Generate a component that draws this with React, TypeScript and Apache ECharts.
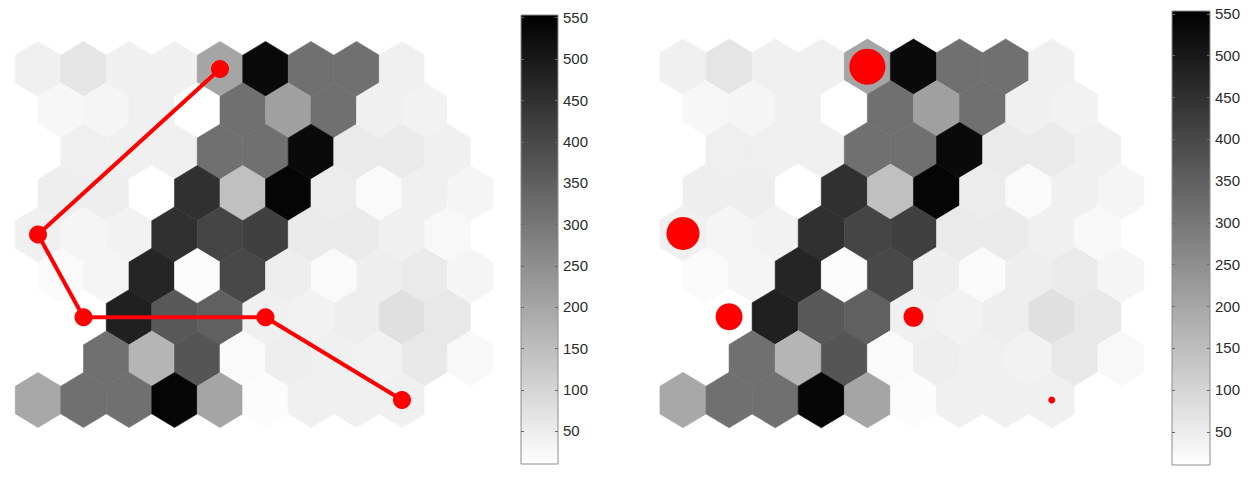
import React, { useEffect, useRef } from "react";
import * as echarts from "echarts";

// Hit counts of the SOM neurons, 9 rows x 10 columns (hexagonal lattice, odd rows shifted right)
const hitRow0 = [42, 65, 42, 42, 202, 532, 314, 314, 42, 10];
const hitRow1 = [27, 31, 42, 10, 314, 212, 314, 42, 38, 10];
const hitRow2 = [10, 44, 42, 42, 314, 314, 532, 55, 55, 42];
const hitRow3 = [46, 46, 10, 451, 144, 542, 50, 21, 42, 31];
const hitRow4 = [42, 31, 38, 451, 406, 417, 55, 55, 42, 25];
const hitRow5 = [21, 31, 474, 16, 400, 46, 21, 46, 55, 31];
const hitRow6 = [10, 10, 485, 366, 349, 42, 38, 46, 76, 59];
const hitRow7 = [10, 314, 168, 372, 21, 46, 42, 38, 59, 25];
const hitRow8 = [195, 314, 314, 542, 202, 16, 42, 42, 42, 10];
const hitRows = [hitRow0, hitRow1, hitRow2, hitRow3, hitRow4, hitRow5, hitRow6, hitRow7, hitRow8];

// Trajectory of best matching units: [column, row]
const trajectoryNodes = [
  [4, 0],
  [0, 4],
  [1, 6],
  [5, 6],
  [8, 8],
];
// Hits of the sample at those nodes (marker diameter)
const sampleHits = [36, 33, 27, 20, 7];

const colorbarTicks = [50, 100, 150, 200, 250, 300, 350, 400, 450, 500, 550];
const valueMin = 10;
const valueMax = 553;

const latticeX = (c: number, r: number) => c + (r % 2) * 0.5;

const hexData = hitRows.flatMap((row, r) => row.map((v, c) => [latticeX(c, r), r, v]));
const trajData = trajectoryNodes.map(([c, r]) => [latticeX(c, r), r]);
const sampleData = trajectoryNodes.map(([c, r], i) => [latticeX(c, r), r, sampleHits[i]]);

const hexRender = (params: any, api: any) => {
  const x = api.value(0);
  const y = api.value(1);
  const [cx, cy] = api.coord([x, y]);
  const [dx, dy] = api.size([1, 1]);
  const hw = dx / 2;
  const pts = [
    [cx, cy - (2 / 3) * dy],
    [cx + hw, cy - dy / 3],
    [cx + hw, cy + dy / 3],
    [cx, cy + (2 / 3) * dy],
    [cx - hw, cy + dy / 3],
    [cx - hw, cy - dy / 3],
  ];
  const color = api.visual("color");
  return {
    type: "polygon",
    shape: { points: pts },
    style: { fill: color, stroke: color, lineWidth: 0.6 },
  };
};

const colorbarRender = (params: any, api: any) => {
  const p1 = api.coord([0, valueMax]);
  const p2 = api.coord([1, valueMin]);
  const children: any[] = [
    {
      type: "rect",
      shape: { x: p1[0], y: p1[1], width: p2[0] - p1[0], height: p2[1] - p1[1] },
      style: {
        fill: new echarts.graphic.LinearGradient(0, 0, 0, 1, [
          { offset: 0, color: "#000000" },
          { offset: 1, color: "#ffffff" },
        ]),
        stroke: "#8c8c8c",
        lineWidth: 1,
      },
    },
  ];
  colorbarTicks.forEach((t) => {
    const y = Math.round(api.coord([0, t])[1]) + 0.5;
    children.push({
      type: "line",
      shape: { x1: p1[0], y1: y, x2: p1[0] + 3, y2: y },
      style: { stroke: "#6a6a6a", lineWidth: 1 },
    });
    children.push({
      type: "line",
      shape: { x1: p2[0] - 3, y1: y, x2: p2[0], y2: y },
      style: { stroke: "#6a6a6a", lineWidth: 1 },
    });
  });
  return { type: "group", children };
};

const mapAxes = (gridIndex: number) => ({
  x: { type: "value", gridIndex, min: -0.5, max: 10, show: false },
  y: { type: "value", gridIndex, min: -0.5, max: 8.5, inverse: true, show: false },
});

const cbYAxis = (gridIndex: number) => ({
  type: "value",
  gridIndex,
  position: "right",
  min: valueMin,
  max: valueMax,
  axisLine: { show: false },
  splitLine: { show: false },
  axisTick: { show: false },
  axisLabel: {
    customValues: colorbarTicks,
    margin: 5,
    color: "#2b2b2b",
    fontSize: 15,
    fontFamily: "Liberation Sans, Arial, sans-serif",
  },
});

export default function App() {
  const ref = useRef<HTMLDivElement>(null);
  useEffect(() => {
    if (!ref.current) return;
    const chart = echarts.init(ref.current, null, { renderer: "svg" });
    const lm = mapAxes(0);
    const rm = mapAxes(2);
    chart.setOption({
      animation: false,
      backgroundColor: "#ffffff",
      grid: [
        { left: 15.25, top: 48.3, width: 477.75, height: 372.4 },
        { left: 521, top: 15, width: 37, height: 449 },
        { left: 659.95, top: 45.9, width: 484, height: 375 },
        { left: 1172, top: 11, width: 38, height: 454 },
      ],
      xAxis: [
        lm.x,
        { type: "value", gridIndex: 1, min: 0, max: 1, show: false },
        rm.x,
        { type: "value", gridIndex: 3, min: 0, max: 1, show: false },
      ],
      yAxis: [lm.y, cbYAxis(1), rm.y, cbYAxis(3)],
      visualMap: {
        type: "continuous",
        show: false,
        min: valueMin,
        max: valueMax,
        dimension: 2,
        seriesIndex: [0, 1],
        inRange: { color: ["#ffffff", "#000000"] },
      },
      series: [
        { type: "custom", xAxisIndex: 0, yAxisIndex: 0, renderItem: hexRender, data: hexData, silent: true, z: 1 },
        { type: "custom", xAxisIndex: 2, yAxisIndex: 2, renderItem: hexRender, data: hexData, silent: true, z: 1 },
        { type: "custom", xAxisIndex: 1, yAxisIndex: 1, renderItem: colorbarRender, data: [[0, valueMin]], silent: true, z: 1 },
        { type: "custom", xAxisIndex: 3, yAxisIndex: 3, renderItem: colorbarRender, data: [[0, valueMin]], silent: true, z: 1 },
        {
          type: "line",
          xAxisIndex: 0,
          yAxisIndex: 0,
          data: trajData,
          symbol: "circle",
          symbolSize: 18,
          lineStyle: { color: "#ff0000", width: 4 },
          itemStyle: { color: "#ff0000" },
          z: 5,
        },
        {
          type: "scatter",
          xAxisIndex: 2,
          yAxisIndex: 2,
          data: sampleData,
          symbolSize: (d: number[]) => d[2],
          itemStyle: { color: "#ff0000", opacity: 1 },
          z: 5,
        },
      ],
    });
    return () => chart.dispose();
  }, []);
  return (
    <div
      ref={ref}
      style={{ position: "fixed", left: 0, top: 0, width: 1258, height: 489, background: "#fff" }}
    />
  );
}
